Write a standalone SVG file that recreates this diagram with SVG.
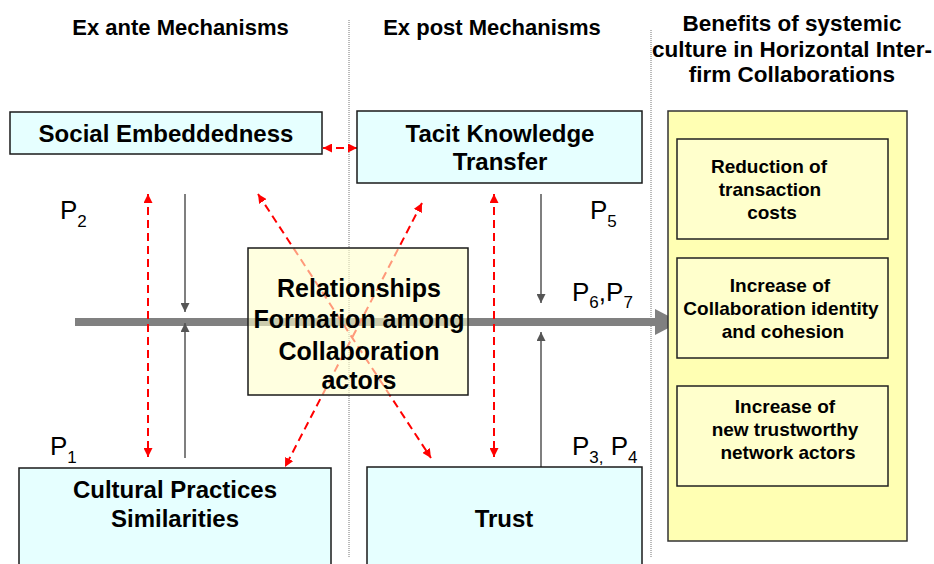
<svg xmlns="http://www.w3.org/2000/svg" width="934" height="564" viewBox="0 0 934 564">
<style>
text{font-family:"Liberation Sans",Arial,sans-serif;fill:#000}
.hdr{font-size:22px;font-weight:bold;text-anchor:middle}
.bh{font-size:22.5px;font-weight:bold;text-anchor:middle}
.nd{font-size:24px;font-weight:bold;text-anchor:middle}
.rl{font-size:25px;font-weight:bold;text-anchor:middle}
.in{font-size:19px;font-weight:bold;text-anchor:middle}
.p{font-size:26px}
.s{font-size:17px}
.cyan{fill:#E6FFFF;stroke:#1a1a1a;stroke-width:1.5}
.div{stroke:#777;stroke-width:1;stroke-dasharray:1,1;fill:none}
.red{stroke:#FF0000;stroke-width:2;stroke-dasharray:8,5;fill:none;marker-start:url(#ra);marker-end:url(#ra)}
.gr{stroke:#555;stroke-width:1.5;fill:none;marker-end:url(#ga)}
.ib{fill:#FFFFCC;stroke:#222;stroke-width:1.5}
</style>
<defs>
<marker id="ra" viewBox="0 0 10 10" refX="10" refY="5" markerWidth="9" markerHeight="9" markerUnits="userSpaceOnUse" orient="auto-start-reverse">
<path d="M0,0 L10,5 L0,10 Z" fill="#FF0000"/>
</marker>
<marker id="ga" viewBox="0 0 10 10" refX="10" refY="5" markerWidth="10" markerHeight="9" markerUnits="userSpaceOnUse" orient="auto">
<path d="M0,0 L10,5 L0,10 Z" fill="#555"/>
</marker>
</defs>
<rect width="934" height="564" fill="#fff"/>
<g id="dividers">
<line class="div" x1="349" y1="20" x2="349" y2="558"/>
<line class="div" x1="651" y1="30" x2="651" y2="558"/>
</g>
<g id="headers">
<text class="hdr" x="180.5" y="35">Ex ante Mechanisms</text>
<text class="hdr" x="492" y="35">Ex post Mechanisms</text>
<text class="bh" x="792" y="31">Benefits of systemic</text>
<text class="bh" x="792" y="57">culture in Horizontal Inter-</text>
<text class="bh" x="792" y="82">firm Collaborations</text>
</g>
<g id="connectors">
<path d="M75,322 L656,322" stroke="#808080" stroke-width="8" fill="none"/>
<path d="M655,309 L680,322 L655,335 Z" fill="#808080"/>
<line class="red" x1="323" y1="148" x2="357" y2="148"/>
<line class="red" x1="148" y1="194" x2="148" y2="457"/>
<line class="red" x1="494" y1="194" x2="494" y2="457"/>
<line class="red" x1="258" y1="194" x2="431" y2="458"/>
<line class="red" x1="422" y1="203" x2="285" y2="467"/>
<line class="gr" x1="185" y1="194" x2="185" y2="312"/>
<line class="gr" x1="185" y1="458" x2="185" y2="323"/>
<line class="gr" x1="541" y1="194" x2="541" y2="303"/>
<line class="gr" x1="541" y1="467" x2="541" y2="332"/>
</g>
<g id="social">
<rect class="cyan" x="10" y="112" width="312" height="42"/>
<text class="nd" x="166" y="142">Social Embeddedness</text>
</g>
<g id="tacit">
<rect class="cyan" x="357" y="111" width="285" height="72"/>
<text class="nd" x="500" y="142">Tacit Knowledge</text>
<text class="nd" x="500" y="170">Transfer</text>
</g>
<g id="relationships">
<rect x="248" y="248" width="220" height="147" fill="#FFFFCC" fill-opacity="0.6" stroke="#1a1a1a" stroke-width="1.5"/>
<text class="rl" x="359" y="297">Relationships</text>
<text class="rl" x="359" y="328">Formation among</text>
<text class="rl" x="359" y="360">Collaboration</text>
<text class="rl" x="359" y="389">actors</text>
</g>
<g id="cultural">
<rect class="cyan" x="19" y="468" width="312" height="110"/>
<text class="nd" x="175" y="498">Cultural Practices</text>
<text class="nd" x="175" y="527">Similarities</text>
</g>
<g id="trust">
<rect class="cyan" x="367" y="467" width="275" height="110"/>
<text class="nd" x="504" y="527">Trust</text>
</g>
<g id="benefits">
<rect x="668" y="111" width="239" height="430" fill="#FFFFB3" stroke="#333" stroke-width="1.5"/>
</g>
<g id="reduction">
<rect class="ib" x="677" y="139" width="211" height="100"/>
<text class="in" x="769" y="173">Reduction of</text>
<text class="in" x="770" y="196">transaction</text>
<text class="in" x="772" y="219">costs</text>
</g>
<g id="identity">
<rect class="ib" x="677" y="258" width="211" height="100"/>
<text class="in" x="780" y="292">Increase of</text>
<text class="in" x="781" y="315">Collaboration identity</text>
<text class="in" x="783" y="338">and cohesion</text>
</g>
<g id="network">
<rect class="ib" x="677" y="386" width="211" height="100"/>
<text class="in" x="785" y="413">Increase of</text>
<text class="in" x="785" y="436">new trustworthy</text>
<text class="in" x="788" y="459">network actors</text>
</g>
<g id="labels">
<text class="p" x="60" y="219">P<tspan class="s" dy="8">2</tspan></text>
<text class="p" x="590" y="219">P<tspan class="s" dy="8">5</tspan></text>
<text class="p" x="572" y="301">P<tspan class="s" dy="7">6</tspan><tspan dy="-7">,P</tspan><tspan class="s" dy="7">7</tspan></text>
<text class="p" x="50" y="455">P<tspan class="s" dy="8">1</tspan></text>
<text class="p" x="572" y="455">P<tspan class="s" dy="8">3,</tspan><tspan dy="-8"> P</tspan><tspan class="s" dy="8">4</tspan></text>
</g>
</svg>
